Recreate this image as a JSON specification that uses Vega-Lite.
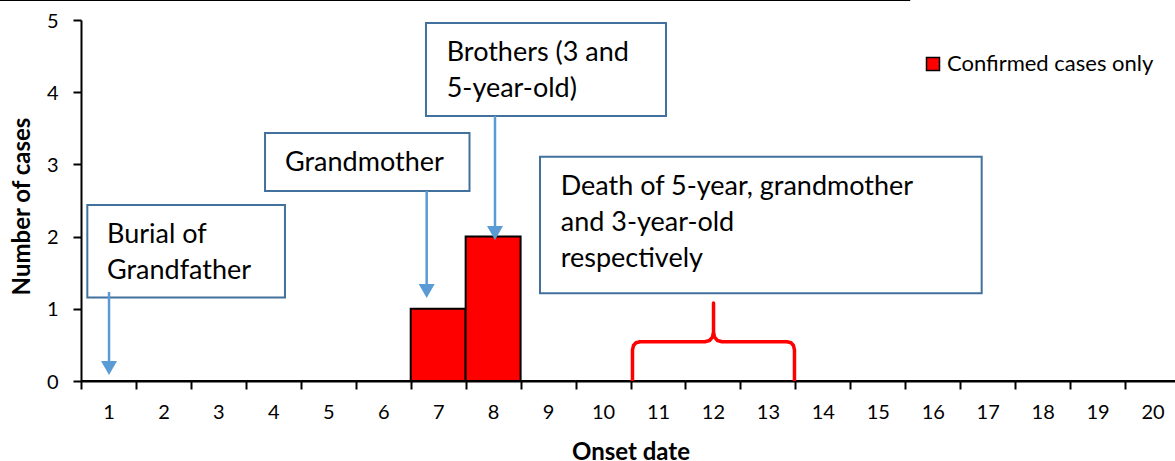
{
  "$schema": "https://vega.github.io/schema/vega-lite/v6.json",
  "width": 1099,
  "height": 361,
  "autosize": {"type": "none"},
  "padding": {"left": 81, "top": 20, "right": 0, "bottom": 80},
  "background": "white",
  "config": {
    "view": {"stroke": null},
    "font": "Lato",
    "axis": {"domainColor": "black", "domainWidth": 2, "tickColor": "black", "tickWidth": 2, "tickSize": 8, "grid": false, "labelColor": "black", "titleColor": "black", "labelFont": "Lato", "titleFont": "Lato"}
  },
  "datasets": {
    "cases": [
      {"date": 1, "cases": 0}, {"date": 2, "cases": 0}, {"date": 3, "cases": 0}, {"date": 4, "cases": 0},
      {"date": 5, "cases": 0}, {"date": 6, "cases": 0}, {"date": 7, "cases": 1}, {"date": 8, "cases": 2},
      {"date": 9, "cases": 0}, {"date": 10, "cases": 0}, {"date": 11, "cases": 0}, {"date": 12, "cases": 0},
      {"date": 13, "cases": 0}, {"date": 14, "cases": 0}, {"date": 15, "cases": 0}, {"date": 16, "cases": 0},
      {"date": 17, "cases": 0}, {"date": 18, "cases": 0}, {"date": 19, "cases": 0}, {"date": 20, "cases": 0}
    ],
    "boxes": [
      {"x1": 0.615, "x2": 4.212, "y1": 2.438, "y2": 1.157},
      {"x1": 3.849, "x2": 7.570, "y1": 3.435, "y2": 2.632},
      {"x1": 6.778, "x2": 11.146, "y1": 4.958, "y2": 3.670},
      {"x1": 8.853, "x2": 16.891, "y1": 3.107, "y2": 1.215}
    ],
    "notes": [
      {"x": 0.973, "y": 1.907, "note": "Burial of\nGrandfather"},
      {"x": 4.212, "y": 2.913, "note": "Grandmother"},
      {"x": 7.155, "y": 4.432, "note": "Brothers (3 and\n5-year-old)"},
      {"x": 9.230, "y": 2.576, "note": "Death of 5-year, grandmother\nand 3-year-old\nrespectively"}
    ],
    "arrows": [
      {"x": 1.010, "y1": 1.233, "y2": 0.263, "hy": 0.180},
      {"x": 6.791, "y1": 2.632, "y2": 1.316, "hy": 1.247},
      {"x": 8.034, "y1": 3.670, "y2": 2.120, "hy": 2.050}
    ],
    "bracket": [
      {"i": 1, "x": 10.536, "y": 0},
      {"i": 2, "x": 10.536, "y": 0.429},
      {"i": 3, "x": 10.555, "y": 0.492},
      {"i": 4, "x": 10.600, "y": 0.529},
      {"i": 5, "x": 10.673, "y": 0.543},
      {"i": 6, "x": 11.856, "y": 0.543},
      {"i": 7, "x": 11.938, "y": 0.561},
      {"i": 8, "x": 11.992, "y": 0.609},
      {"i": 9, "x": 12.011, "y": 0.679},
      {"i": 10, "x": 12.011, "y": 1.080},
      {"i": 11, "x": 12.011, "y": 0.679},
      {"i": 12, "x": 12.029, "y": 0.609},
      {"i": 13, "x": 12.083, "y": 0.561},
      {"i": 14, "x": 12.165, "y": 0.543},
      {"i": 15, "x": 13.348, "y": 0.543},
      {"i": 16, "x": 13.421, "y": 0.529},
      {"i": 17, "x": 13.466, "y": 0.492},
      {"i": 18, "x": 13.484, "y": 0.429},
      {"i": 19, "x": 13.484, "y": 0}
    ],
    "topline": [{"x1": -0.974, "x2": 15.59, "y": 5.277}]
  },
  "layer": [
    {
      "data": {"name": "cases"},
      "mark": {"type": "bar", "width": 54.95, "stroke": "black", "strokeWidth": 2},
      "encoding": {
        "x": {
          "field": "date", "type": "quantitative",
          "scale": {"domain": [0.5, 20.5], "nice": false, "zero": false, "padding": 0},
          "axis": {
            "values": [1, 2, 3, 4, 5, 6, 7, 8, 9, 10, 11, 12, 13, 14, 15, 16, 17, 18, 19, 20],
            "format": "d",
            "tickOffset": -27.475,
            "labelOffset": 27.475,
            "labelOverlap": false,
            "labelFlush": false,
            "labelFontSize": 20,
            "labelBaseline": "middle",
            "labelPadding": 23,
            "title": "Onset date",
            "titleFontSize": 24,
            "titleFontWeight": "bold",
            "titleBaseline": "alphabetic",
            "titleY": 78
          }
        },
        "y": {
          "field": "cases", "type": "quantitative",
          "scale": {"domain": [0, 5], "nice": false},
          "axis": {
            "values": [0, 1, 2, 3, 4, 5],
            "format": "d",
            "labelFontSize": 20,
            "labelPadding": 15,
            "labelBaseline": "middle",
            "labelOffset": 1,
            "title": "Number of cases",
            "titleFontSize": 24,
            "titleFontWeight": "bold",
            "titleX": -59,
            "titleY": 186,
            "titleAlign": "center",
            "titleBaseline": "middle",
            "titleAngle": -90
          }
        },
        "fill": {
          "datum": "Confirmed cases only",
          "type": "nominal",
          "scale": {"range": ["#FF0000"]},
          "legend": {
            "orient": "none",
            "legendX": 841,
            "legendY": 33,
            "title": null,
            "padding": 0,
            "symbolType": "square",
            "symbolSize": 169,
            "symbolStrokeColor": "black",
            "symbolStrokeWidth": 1.5,
            "symbolOpacity": 1,
            "labelFont": "Lato",
            "labelFontSize": 22,
            "labelColor": "black",
            "labelOffset": 3,
            "labelLimit": 400
          }
        }
      }
    },
    {
      "data": {"name": "boxes"},
      "mark": {"type": "rect", "fill": "white", "stroke": "#41719C", "strokeWidth": 2},
      "encoding": {
        "x": {"field": "x1", "type": "quantitative"},
        "x2": {"field": "x2"},
        "y": {"field": "y1", "type": "quantitative"},
        "y2": {"field": "y2"}
      }
    },
    {
      "data": {"name": "notes"},
      "mark": {"type": "text", "align": "left", "baseline": "alphabetic", "font": "Lato", "fontSize": 27, "lineHeight": 36, "lineBreak": "\n", "color": "black"},
      "encoding": {
        "x": {"field": "x", "type": "quantitative"},
        "y": {"field": "y", "type": "quantitative"},
        "text": {"field": "note"}
      }
    },
    {
      "data": {"name": "arrows"},
      "mark": {"type": "rule", "color": "#5B9BD5", "strokeWidth": 2.5},
      "encoding": {
        "x": {"field": "x", "type": "quantitative"},
        "y": {"field": "y1", "type": "quantitative"},
        "y2": {"field": "y2"}
      }
    },
    {
      "data": {"name": "arrows"},
      "mark": {"type": "point", "shape": "triangle-down", "filled": true, "color": "#5B9BD5", "opacity": 1, "size": 256},
      "encoding": {
        "x": {"field": "x", "type": "quantitative"},
        "y": {"field": "hy", "type": "quantitative"}
      }
    },
    {
      "data": {"name": "bracket"},
      "mark": {"type": "line", "color": "#FF0000", "strokeWidth": 3.5, "strokeJoin": "round", "strokeCap": "butt"},
      "encoding": {
        "x": {"field": "x", "type": "quantitative"},
        "y": {"field": "y", "type": "quantitative"},
        "order": {"field": "i"}
      }
    },
    {
      "data": {"name": "topline"},
      "mark": {"type": "rule", "color": "black", "strokeWidth": 2, "clip": false},
      "encoding": {
        "x": {"field": "x1", "type": "quantitative"},
        "x2": {"field": "x2"},
        "y": {"field": "y", "type": "quantitative"}
      }
    }
  ]
}
